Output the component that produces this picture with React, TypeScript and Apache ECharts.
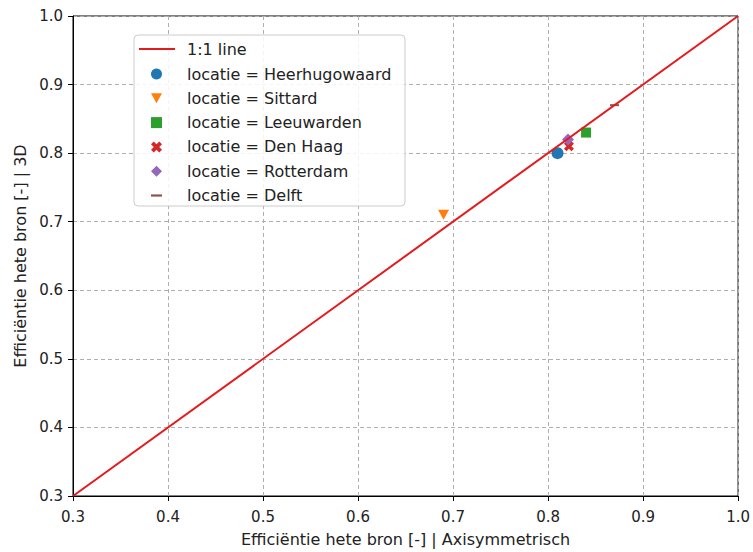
import React, { useEffect, useRef } from "react";
import * as echarts from "echarts";

const locations = ["Heerhugowaard", "Sittard", "Leeuwarden", "Den Haag", "Rotterdam", "Delft"];
const axisymValues = [0.81, 0.69, 0.84, 0.822, 0.821, 0.87];
const threeDValues = [0.8, 0.71, 0.83, 0.81, 0.82, 0.87];
const oneToOneLine = [0.3, 1.0];
const axisMin = 0.3;
const axisMax = 1.0;
const tickStep = 0.1;

const colors = ["#1f77b4", "#ff7f0e", "#2ca02c", "#d62728", "#9467bd", "#8c564b"];
const symbols = [
  "circle",
  "path://M0,0 L10,0 L5,9 Z",
  "rect",
  "path://M0,2.5 L2.5,0 L5,2.5 L7.5,0 L10,2.5 L7.5,5 L10,7.5 L7.5,10 L5,7.5 L2.5,10 L0,7.5 L2.5,5 Z",
  "diamond",
  "path://M0,0 L10,0 L10,2 L0,2 Z",
];
const symbolSizes: any[] = [12, [11, 10], 10, 10, 12, [9, 2]];

const FONT = "DejaVu Sans";
const RED = "#e41a1c";

export default function App() {
  const ref = useRef<HTMLDivElement>(null);
  useEffect(() => {
    document.body.style.margin = "0";
    const chart = echarts.init(ref.current!, undefined, { renderer: "svg" });
    const lineName = "1:1 line";
    const scatterNames = locations.map((l) => "locatie = " + l);
    const axisCommon = {
      type: "value",
      min: axisMin,
      max: axisMax,
      interval: tickStep,
      nameLocation: "middle",
      nameTextStyle: { fontFamily: FONT, fontSize: 16, color: "#222" },
      axisLine: { show: true, lineStyle: { color: "#000", width: 1 } },
      axisTick: { show: true, inside: false, length: 5, lineStyle: { color: "#000" } },
      axisLabel: {
        fontFamily: FONT,
        fontSize: 15,
        color: "#222",
        formatter: (v: number) => v.toFixed(1),
      },
      splitLine: { show: true, lineStyle: { color: "#b0b0b0", type: [4, 3], width: 1 } },
    };
    chart.setOption({
      animation: false,
      backgroundColor: "#fff",
      grid: {
        left: 73,
        right: 14,
        top: 16,
        bottom: 52,
        show: true,
        borderColor: "#000",
        borderWidth: 1,
        backgroundColor: "transparent",
      },
      xAxis: {
        ...axisCommon,
        name: "Efficiëntie hete bron [-] | Axisymmetrisch",
        nameGap: 35,
        axisLabel: { ...axisCommon.axisLabel, margin: 13 },
      },
      yAxis: {
        ...axisCommon,
        name: "Efficiëntie hete bron [-] | 3D",
        nameGap: 45,
        axisLabel: { ...axisCommon.axisLabel, margin: 10 },
      },
      graphic: [
        {
          type: "rect",
          z: 3,
          shape: { x: 134, y: 35, width: 271, height: 171, r: 4 },
          style: { fill: "rgba(255,255,255,0.85)", stroke: "#cccccc", lineWidth: 1 },
        },
      ],
      legend: [
        {
          data: [
            {
              name: lineName,
              icon: "path://M0,0 L36,0 L36,2.2 L0,2.2 Z",
              itemStyle: { color: RED },
            },
          ],
          orient: "vertical",
          left: 139,
          top: 41,
          padding: 0,
          itemWidth: 36,
          itemHeight: 14,
          z: 5,
          textStyle: { fontFamily: FONT, fontSize: 16, lineHeight: 16, color: "#222", padding: [0, 0, 0, 7] },
        },
        {
          data: scatterNames,
          orient: "vertical",
          left: 151,
          top: 66,
          padding: 0,
          itemWidth: 11,
          itemHeight: 11,
          itemGap: 8.3,
          z: 5,
          textStyle: { fontFamily: FONT, fontSize: 16, lineHeight: 16, color: "#222", padding: [0, 0, 0, 20] },
        },
      ],
      series: [
        ...locations.map((loc, i) => ({
          type: "scatter",
          name: scatterNames[i],
          data: [[axisymValues[i], threeDValues[i]]],
          symbol: symbols[i],
          symbolSize: symbolSizes[i],
          itemStyle: { color: colors[i], opacity: 1 },
          z: 2,
        })),
        {
          type: "line",
          name: lineName,
          data: [
            [oneToOneLine[0], oneToOneLine[0]],
            [oneToOneLine[1], oneToOneLine[1]],
          ],
          symbol: "none",
          lineStyle: { color: RED, width: 2 },
          itemStyle: { color: RED },
          z: 3,
        },
      ],
    });
    return () => chart.dispose();
  }, []);
  return <div ref={ref} style={{ width: 753, height: 552 }} />;
}
